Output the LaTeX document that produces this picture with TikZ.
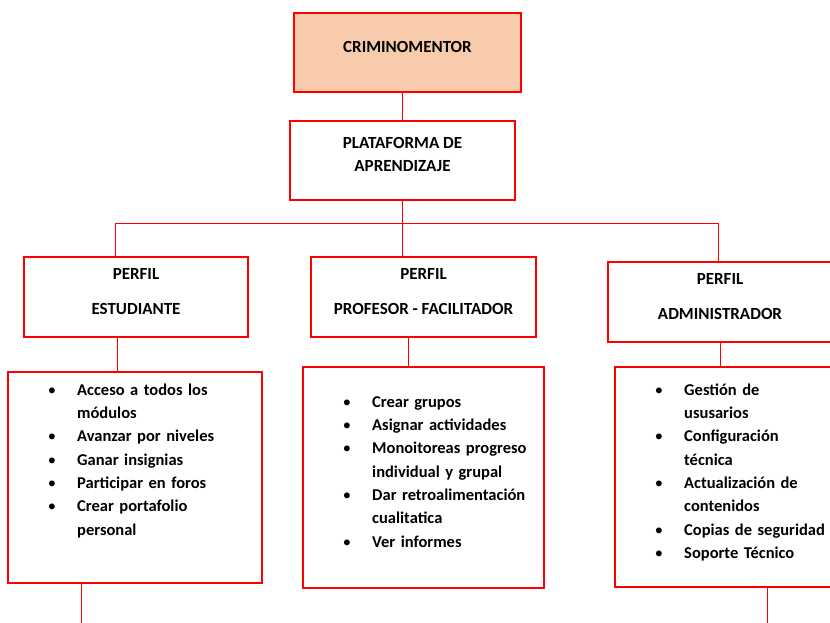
\documentclass[tikz,border=0pt]{standalone}
\usepackage{fontspec}
\setmainfont{Carlito}
\usepackage{enumitem}
\usetikzlibrary{positioning}
\definecolor{peach}{HTML}{F8CBAD}
\definecolor{boxred}{HTML}{FF0000}
\tikzset{
  box/.style={draw=boxred, line width=1.6pt, rectangle, align=center,
    text depth=12pt, font=\bfseries\fontsize{17}{23}\selectfont},
  listbox/.style={draw=boxred, line width=1.6pt, rectangle},
  listtext/.style={anchor=base west, inner sep=0pt, text width=250pt,
    font=\bfseries\fontsize{16.5}{23.3}\selectfont},
  link/.style={draw=boxred, line width=0.8pt},
}
\newcommand{\listado}[1]{%
  \begin{itemize}[leftmargin=25pt, labelsep=21pt, itemsep=0pt, topsep=0pt,
    parsep=0pt, partopsep=0pt]#1\end{itemize}}
\begin{document}
\begin{tikzpicture}[x=1pt, y=-1pt]
  \useasboundingbox (0,0) rectangle (830,623);
  % top levels
  \node[box, fill=peach, minimum width=227pt, minimum height=79pt]
    (crimino) at (407.5,52.5) {CRIMINOMENTOR};
  \node[box, minimum width=225pt, minimum height=79pt]
    (plataforma) at (402.5,160.5) {PLATAFORMA DE\\APRENDIZAJE};
  % profiles
  \node[box, minimum width=224pt, minimum height=80pt]
    (estudiante) at (136,297) {PERFIL\\[12pt]ESTUDIANTE};
  \node[box, minimum width=225pt, minimum height=80pt]
    (profesor) at (423.5,297) {PERFIL\\[12pt]PROFESOR - FACILITADOR};
  \node[box, minimum width=224pt, minimum height=80pt]
    (administrador) at (720,302) {PERFIL\\[12pt]ADMINISTRADOR};
  % lists
  \node[listbox, minimum width=254pt, minimum height=211pt]
    (estbox) at (135,477.5) {};
  \node[listbox, minimum width=241pt, minimum height=221pt]
    (profbox) at (423.5,477.5) {};
  \node[listbox, minimum width=240pt, minimum height=220pt]
    (adminbox) at (735,477) {};
  \node[listtext] (estlist) at (52,372) {\listado{
    \item Acceso a todos los\\ módulos
    \item Avanzar por niveles
    \item Ganar insignias
    \item Participar en foros
    \item Crear portafolio\\ personal}};
  \node[listtext] (proflist) at (347,384) {\listado{
    \item Crear grupos
    \item Asignar actividades
    \item Monoitoreas progreso\\ individual y grupal
    \item Dar retroalimentación\\ cualitatica
    \item Ver informes}};
  \node[listtext] (adminlist) at (659,372) {\listado{
    \item Gestión de\\ ususarios
    \item Configuración\\ técnica
    \item Actualización de\\ contenidos
    \item Copias de seguridad
    \item Soporte Técnico}};
  % connectors
  \draw[link] (plataforma.north) -- (plataforma.north |- crimino.south);
  \draw[link] (plataforma.south) -- (plataforma.south |- profesor.north);
  \draw[link] ([xshift=-21pt]estudiante.north) |- ([yshift=-23pt]plataforma.south)
    -| ([xshift=-2pt]administrador.north);
  \draw[link] ([xshift=-19pt]estudiante.south) -- ([xshift=-19pt]estudiante.south |- estbox.north);
  \draw[link] ([xshift=-15.5pt]profesor.south) -- ([xshift=-15.5pt]profesor.south |- profbox.north);
  \draw[link] (administrador.south) -- (administrador.south |- adminbox.north);
  \coordinate (estout) at (81,623);
  \coordinate (adminout) at (767,623);
  \draw[link] (estout |- estbox.south) -- (estout);
  \draw[link] (adminout |- adminbox.south) -- (adminout);
\end{tikzpicture}
\end{document}
